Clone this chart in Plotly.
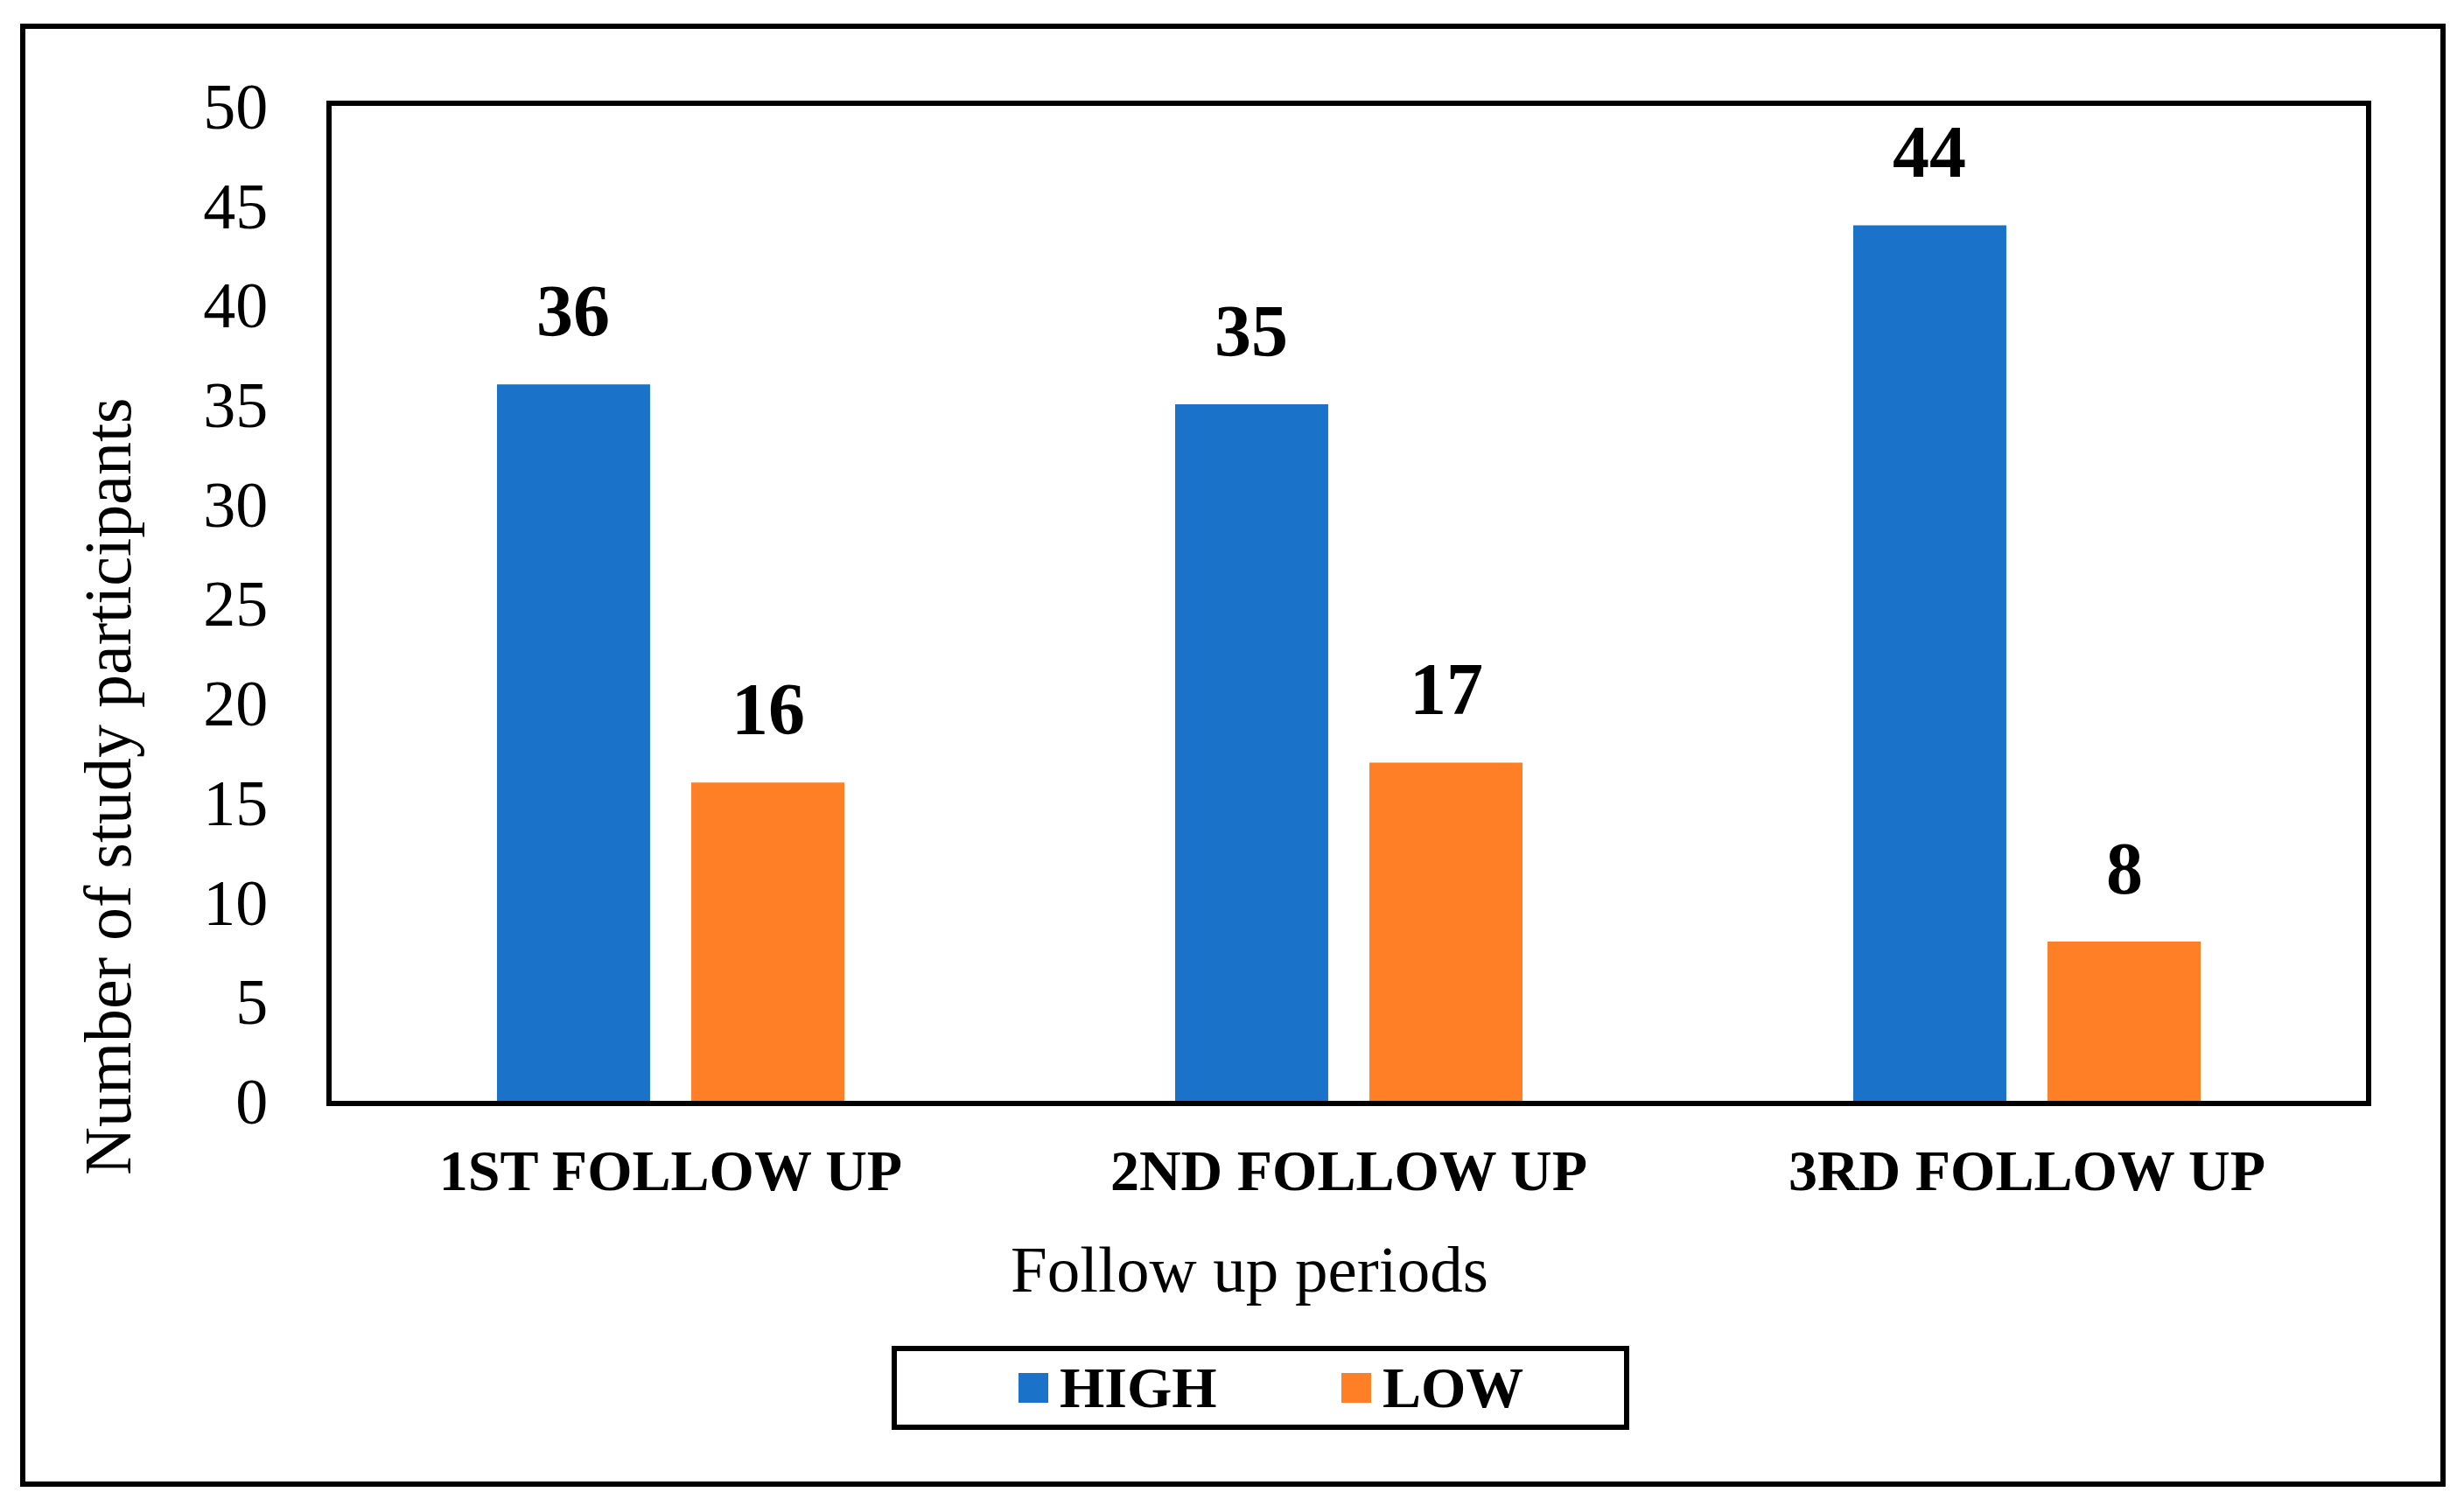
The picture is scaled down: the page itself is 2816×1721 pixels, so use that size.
import plotly.graph_objects as go

categories = ["1ST FOLLOW UP", "2ND FOLLOW UP", "3RD FOLLOW UP"]
high_values = [36, 35, 44]
low_values = [16, 17, 8]
series_names = ["HIGH", "LOW"]
y_ticks = [0, 5, 10, 15, 20, 25, 30, 35, 40, 45, 50]

W, H = 2816, 1721
OFF = 7  # page offset compensation
L, R, T, B = 378 - OFF, 113 + OFF, 120 - OFF, 464 + OFF
PW = W - L - R
PH = H - T - B
BARGAP = 0.427
BARGROUPGAP = 0.212
FONT = "Liberation Serif"
BLUE = "#1A73C8"
ORANGE = "#FF7F27"


def px_x(x):
    return (x - OFF - L) / PW


def px_y(y):
    return (H - B - (y - OFF)) / PH


fig = go.Figure()
fig.add_trace(go.Bar(x=categories, y=high_values, name=series_names[0],
                     marker=dict(color=BLUE, line=dict(width=0)), showlegend=False))
fig.add_trace(go.Bar(x=categories, y=low_values, name=series_names[1],
                     marker=dict(color=ORANGE, line=dict(width=0)), showlegend=False))

# value labels above bars
cat_px = PW / len(categories)
shift = cat_px * (1 - BARGAP) / 4
annotations = []
for vals, sgn in ((high_values, -1), (low_values, 1)):
    for c, v in zip(categories, vals):
        annotations.append(dict(x=c, y=v, xref="x", yref="y", text=f"<b>{v}</b>",
                                showarrow=False, xshift=sgn * shift, yshift=35,
                                yanchor="bottom", xanchor="center",
                                font=dict(family=FONT, size=84, color="black")))

# axis titles
annotations.append(dict(x=px_x(122), y=px_y(898), xref="paper", yref="paper",
                        text="Number of study participants", textangle=-90,
                        showarrow=False, xanchor="center", yanchor="middle",
                        font=dict(family=FONT, size=76, color="black")))
annotations.append(dict(x=px_x(1427), y=px_y(1449), xref="paper", yref="paper",
                        text="Follow up periods", showarrow=False,
                        xanchor="center", yanchor="middle",
                        font=dict(family=FONT, size=75, color="black")))

# frame and legend (manual)
shapes = [
    dict(type="rect", xref="paper", yref="paper", x0=px_x(25), x1=px_x(2791),
         y0=px_y(29), y1=px_y(1695), line=dict(color="black", width=6), layer="below"),
    dict(type="rect", xref="paper", yref="paper", x0=px_x(1021), x1=px_x(1858),
         y0=px_y(1540), y1=px_y(1630), line=dict(color="black", width=6)),
]
leg_items = [(series_names[0], BLUE, 1163), (series_names[1], ORANGE, 1532)]
for name, col, x0 in leg_items:
    shapes.append(dict(type="rect", xref="paper", yref="paper", x0=px_x(x0), x1=px_x(x0 + 34),
                       y0=px_y(1568), y1=px_y(1602), fillcolor=col, line=dict(width=0)))
    annotations.append(dict(x=px_x(x0 + 45), y=px_y(1584), xref="paper", yref="paper",
                            text=f"<b>{name}</b>", showarrow=False, xanchor="left",
                            yanchor="middle",
                            font=dict(family=FONT, size=66, color="black")))

fig.update_layout(
    width=W, height=H,
    margin=dict(l=L, r=R, t=T, b=B, pad=0),
    paper_bgcolor="white", plot_bgcolor="white",
    barmode="group", bargap=BARGAP, bargroupgap=BARGROUPGAP,
    showlegend=False,
    annotations=annotations, shapes=shapes,
    font=dict(family=FONT, color="black"),
)
fig.update_xaxes(showline=True, linecolor="black", linewidth=6, mirror=True,
                 showgrid=False, ticks="", ticklabelstandoff=17,
                 tickfont=dict(family=FONT, size=66, color="black", weight="bold"))
fig.update_yaxes(range=[0, 50], tickvals=y_ticks, showline=True, linecolor="black",
                 linewidth=6, mirror=True, showgrid=False, zeroline=False, ticks="",
                 ticklabelstandoff=52,
                 tickfont=dict(family=FONT, size=74, color="black"))

fig.write_html("out.html")
